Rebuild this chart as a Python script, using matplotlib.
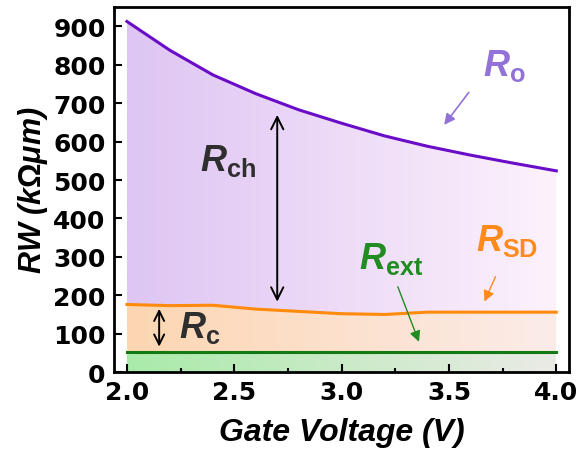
import matplotlib.pyplot as plt
import numpy as np
from matplotlib.colors import LinearSegmentedColormap

plt.rcParams['font.family'] = ['Liberation Sans', 'DejaVu Sans']
plt.rcParams['font.weight'] = 'bold'
plt.rcParams['mathtext.fontset'] = 'custom'
plt.rcParams['mathtext.it'] = 'Liberation Sans:italic:bold'
plt.rcParams['mathtext.rm'] = 'Liberation Sans:bold'
plt.rcParams['mathtext.bf'] = 'Liberation Sans:bold'

# values
vg = [2.0, 2.2, 2.4, 2.6, 2.8, 3.0, 3.2, 3.4, 3.6, 3.8, 4.0]
r_o = [913, 838, 774, 725, 683, 648, 615, 588, 565, 544, 524]
r_sd = [176, 173, 174, 164, 158, 152, 150, 156, 156, 156, 156]
r_ext = [52, 52, 52, 52, 52, 52, 52, 52, 52, 52, 52]

fig, ax = plt.subplots(figsize=(5.88, 4.6), dpi=100)
fig.subplots_adjust(left=0.194, right=0.968, bottom=0.189, top=0.982)


def grad_fill(lower, upper, c_left, c_right):
    poly = ax.fill_between(vg, lower, upper, color='none', lw=0)
    cmap = LinearSegmentedColormap.from_list('g', [c_left, c_right])
    img = ax.imshow(np.linspace(0, 1, 256).reshape(1, -1), cmap=cmap, aspect='auto',
                    extent=[vg[0], vg[-1], 0, 950], zorder=1)
    img.set_clip_path(poly.get_paths()[0], transform=ax.transData)


grad_fill(r_sd, r_o, '#dec5f3', '#fdf2fc')
grad_fill(r_ext, r_sd, '#fdd6b2', '#fbece9')
grad_fill([0] * len(vg), r_ext, '#a9eaa9', '#ebebe6')
ax.set_xlim(1.94, 4.06)
ax.set_ylim(0, 950)

ax.plot(vg, r_o, color='#6a0cc8', lw=2.2, zorder=3)
ax.plot(vg, r_sd, color='#ff8a0c', lw=2.2, zorder=3)
ax.plot(vg, r_ext, color='#137a13', lw=2.2, zorder=3)

# labels and arrows
fs = 26
ax.text(3.76, 800, r'$R_{\mathrm{o}}$', color='#9272d8', fontsize=fs, ha='center', va='center', zorder=4)
ax.annotate('', xy=(3.47, 638), xytext=(3.60, 734),
            arrowprops=dict(arrowstyle='-|>', color='#9272d8', lw=1.2, mutation_scale=16), zorder=4)

ax.text(2.47, 553, r'$R_{\mathrm{ch}}$', color='#2e2e2e', fontsize=fs, ha='center', va='center', zorder=4)
ax.annotate('', xy=(2.70, 677), xytext=(2.70, 176),
            arrowprops=dict(arrowstyle='<->', color='black', lw=1.4, mutation_scale=22), zorder=4)

ax.annotate('', xy=(2.15, 172), xytext=(2.15, 59),
            arrowprops=dict(arrowstyle='<->', color='black', lw=1.4, mutation_scale=18), zorder=4)
ax.text(2.34, 117, r'$R_{\mathrm{c}}$', color='#2e2e2e', fontsize=fs, ha='center', va='center', zorder=4)

ax.text(3.23, 297, r'$R_{\mathrm{ext}}$', color='#228b22', fontsize=fs, ha='center', va='center', zorder=4)
ax.annotate('', xy=(3.365, 72), xytext=(3.257, 229),
            arrowprops=dict(arrowstyle='-|>', color='#228b22', lw=1.0, mutation_scale=16), zorder=4)

ax.text(3.77, 345, r'$R_{\mathrm{SD}}$', color='#ff8a1c', fontsize=fs, ha='center', va='center', zorder=4)
ax.annotate('', xy=(3.66, 177), xytext=(3.722, 255),
            arrowprops=dict(arrowstyle='-|>', color='#ff8a1c', lw=1.0, mutation_scale=16), zorder=4)

ax.set_xticks([2.0, 2.5, 3.0, 3.5, 4.0])
ax.set_xticks([2.25, 2.75, 3.25, 3.75], minor=True)
ax.set_yticks(range(0, 901, 100))
ax.tick_params(direction='in', labelsize=18, width=1.5, length=6, pad=6)
ax.tick_params(which='minor', direction='in', width=1.5, length=3)
for s in ax.spines.values():
    s.set_linewidth(2)
for lab in ax.get_xticklabels() + ax.get_yticklabels():
    lab.set_fontweight('bold')
    lab.set_family('DejaVu Sans')

ax.set_xlabel('Gate Voltage (V)', fontsize=23, fontweight='bold', fontstyle='italic', labelpad=9)
ax.set_ylabel(r'RW (k$\Omega\mu$m)', fontsize=22, fontweight='bold', fontstyle='italic', labelpad=2)

fig.savefig('out.png', dpi=100)
